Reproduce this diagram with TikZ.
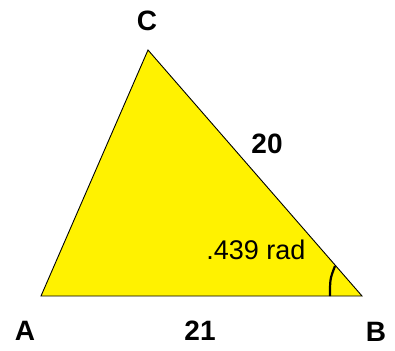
\documentclass[tikz,border=0pt]{standalone}
\usepackage{fontspec}
\setmainfont{Liberation Sans}
\usetikzlibrary{positioning}

\begin{document}
\begin{tikzpicture}[
  x=1pt, y=-1pt,
  vtx/.style={inner sep=0pt, font=\fontsize{28}{30}\selectfont\bfseries},
  side/.style={inner sep=0pt, font=\fontsize{28}{30}\selectfont\bfseries},
  ang/.style={inner sep=0pt, font=\fontsize{27}{29}\selectfont},
  tri/.style={draw=black, fill=yellow, line width=0.9pt, line join=miter},
  angmark/.style={draw=black, line width=2.2pt}
]
\useasboundingbox (0,0) rectangle (395,350);

\coordinate (A) at (41,296);
\coordinate (B) at (362,296);
\coordinate (C) at (148,50);
\draw[tri] (A) -- (B) -- (C) -- cycle;

% angle at B
\coordinate (m1) at (330,296);
\coordinate (m2) at (335,266);
\draw[angmark] (m1) .. controls (330,279) .. (m2);

\node[vtx] (lA) at (25,331) {A};
\node[vtx] (lB) at (376,332) {B};
\node[vtx] (lC) at (147,21) {C};
\node[side] (lAB) at (200,331) {21};
\node[side] (lBC) at (267,144) {20};
\node[ang]  (lang) at (256,250) {.439 rad};
\end{tikzpicture}
\end{document}
